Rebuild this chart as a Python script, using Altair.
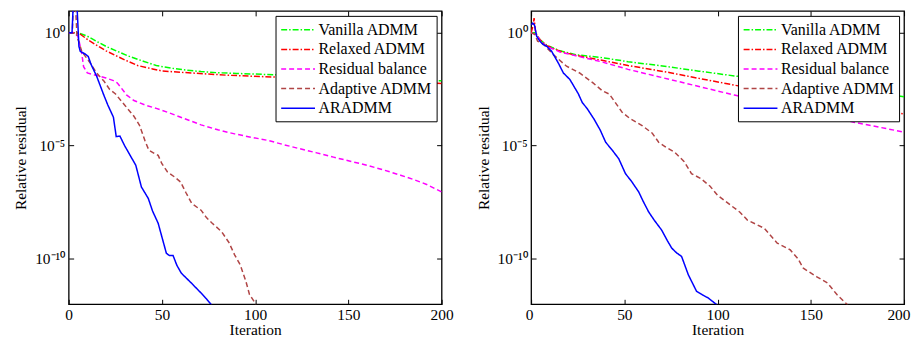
import altair as alt
import pandas as pd

METHODS = ["Vanilla ADMM", "Relaxed ADMM", "Residual balance", "Adaptive ADMM", "ARADMM"]
COLORS = ["#00ff00", "#ff0000", "#ff00ff", "#b04545", "#0000ff"]
DASHES = [[6, 2, 1.5, 2], [6, 2, 1.5, 2], [5, 3], [5, 3], [1, 0]]
WIDTHS = [1.5, 1.5, 1.5, 1.5, 2.0]

# ---- Left panel: iterations and log10(relative residual) ----
L_van_it = [0, 3, 5, 10, 15, 20, 26, 32, 40, 47, 55, 63, 71, 80, 90, 100, 110, 130, 150, 170, 190, 200]
L_van_lg = [0, 0, 0, -0.15, -0.38, -0.6, -0.82, -1.03, -1.26, -1.45, -1.57, -1.65, -1.72, -1.77, -1.8, -1.83, -1.86, -1.91, -1.96, -2.02, -2.09, -2.13]

L_rel_it = [0, 3, 6, 11, 16, 20, 25, 30, 37, 45, 50, 60, 68, 85, 103, 120, 140, 160, 180, 200]
L_rel_lg = [0, 0, -0.05, -0.35, -0.6, -0.8, -1.0, -1.2, -1.45, -1.6, -1.69, -1.75, -1.79, -1.88, -1.94, -1.99, -2.04, -2.1, -2.17, -2.25]

L_res_it = [0, 3, 5, 7, 8, 10, 15, 20, 24, 26, 28, 31, 35, 41, 47, 53, 62, 71, 80, 89, 98, 107, 115, 124, 133, 142, 151, 160, 169, 178, 185, 192, 200]
L_res_lg = [0, 0, -0.16, -0.9, -1.5, -1.78, -1.89, -2.0, -2.12, -2.22, -2.42, -2.75, -3.0, -3.2, -3.35, -3.52, -3.8, -4.08, -4.3, -4.48, -4.63, -4.77, -4.95, -5.14, -5.32, -5.51, -5.69, -5.87, -6.08, -6.31, -6.5, -6.72, -7.05]

L_ada_it = [0, 2, 2.5, 3.5, 4.5, 5.4, 7, 11.6, 15, 19, 22, 25, 30, 35, 38, 41, 43, 46, 48, 50, 53, 57, 60, 63, 66, 71, 74, 77, 82, 86, 89, 92, 95, 97, 100, 102]
L_ada_lg = [0, 0, 1.5, 1.5, -0.2, -0.38, -0.82, -1.34, -1.78, -2.15, -2.51, -2.7, -3.2, -3.7, -4.1, -4.8, -5.2, -5.35, -5.43, -5.8, -6.17, -6.4, -6.61, -7.1, -7.56, -7.86, -8.2, -8.44, -8.81, -9.3, -9.84, -10.28, -11.0, -11.6, -11.97, -12.4]

L_ara_it = [0, 1.8, 2.6, 4.3, 5.5, 6.2, 9, 10.5, 12, 15, 18.7, 21, 24, 25.5, 27.5, 30, 32, 36, 39, 42.7, 45, 48, 52.4, 54, 56, 58, 60.4, 65.8, 71, 74, 76.4, 78]
L_ara_lg = [0, 0, 1.5, 1.5, -0.6, -0.82, -0.95, -1.05, -1.4, -1.92, -2.73, -3.2, -3.74, -4.6, -4.58, -5.0, -5.29, -5.87, -6.83, -7.34, -7.9, -8.44, -9.77, -9.87, -9.87, -10.3, -10.65, -11.09, -11.53, -11.8, -12.04, -12.3]

# ---- Right panel ----
R_van_it = [0, 2, 4.8, 8.4, 15.5, 24, 38, 52, 74, 90, 109, 130, 160, 185, 200]
R_van_lg = [0, 0, -0.31, -0.55, -0.8, -0.97, -1.1, -1.28, -1.51, -1.7, -1.91, -2.12, -2.42, -2.67, -2.83]

R_rel_it = [0, 1, 1.6, 2.3, 3, 4.8, 8.4, 15.5, 24, 38, 52, 74, 90, 109, 130, 160, 185, 200]
R_rel_lg = [0, 0.3, 0.65, 0.1, -0.1, -0.31, -0.57, -0.82, -1.0, -1.22, -1.45, -1.76, -2.02, -2.32, -2.62, -3.05, -3.4, -3.6]

R_res_it = [0, 3, 4.8, 8.4, 15.5, 24, 38, 52, 74, 90, 109, 130, 150, 173, 200]
R_res_lg = [0, -0.1, -0.35, -0.6, -0.85, -1.02, -1.29, -1.62, -2.06, -2.38, -2.76, -3.15, -3.5, -3.96, -4.4]

R_ada_it = [0, 2, 3.5, 6.6, 11.9, 19, 26, 33.2, 38.2, 42, 48.8, 53, 59.5, 65, 68.4, 72, 77, 82, 86, 91, 96, 100, 107, 112, 116, 121, 125, 132, 139, 143, 146, 153, 159, 164, 169.5, 172]
R_ada_lg = [0, -0.07, -0.37, -0.5, -0.97, -1.48, -1.78, -2.22, -2.57, -2.72, -3.52, -3.8, -4.11, -4.45, -4.85, -5.05, -5.29, -5.7, -6.24, -6.46, -6.8, -7.2, -7.64, -7.95, -8.3, -8.5, -8.66, -9.32, -9.62, -10.0, -10.43, -10.8, -11.09, -11.6, -12.04, -12.4]

R_ara_it = [0, 0.9, 1.8, 3, 4.8, 6.6, 8.4, 11, 14.6, 17.3, 20.8, 25.3, 27.5, 30, 33.7, 37, 40, 43.5, 47, 50.6, 54, 57.7, 60, 63, 66, 70, 73, 75.4, 78, 80.7, 84.3, 88.7, 92, 95, 99.4, 101]
R_ara_lg = [0.35, 0.43, 0.35, -0.16, -0.38, -0.53, -0.6, -0.82, -1.34, -1.78, -2.07, -2.7, -3.1, -3.35, -3.82, -4.3, -4.85, -5.2, -5.58, -6.24, -6.6, -7.05, -7.45, -7.93, -8.3, -8.74, -9.2, -9.54, -9.75, -9.91, -10.72, -11.45, -11.62, -11.75, -12.04, -12.3]

LEFT = [(L_van_it, L_van_lg), (L_rel_it, L_rel_lg), (L_res_it, L_res_lg), (L_ada_it, L_ada_lg), (L_ara_it, L_ara_lg)]
RIGHT = [(R_van_it, R_van_lg), (R_rel_it, R_rel_lg), (R_res_it, R_res_lg), (R_ada_it, R_ada_lg), (R_ara_it, R_ara_lg)]

X_TICKS = [0, 50, 100, 150, 200]
Y_TICKS = [1, 1e-5, 1e-10]
Y_DOMAIN = [10 ** -12.03, 10 ** 0.97]
FONT = "Liberation Serif, Times New Roman, serif"
FS = 15.5


def make_df(series):
    rows = []
    for k, (its, lgs) in enumerate(series):
        for i, v in zip(its, lgs):
            rows.append({"method": METHODS[k], "iter": i, "resid": 10 ** v, "k": k})
    return pd.DataFrame(rows)


def panel(series, flush):
    df = make_df(series)
    base = alt.Chart(df)
    xs = alt.Scale(domain=[0, 200], nice=False, zero=False)
    ys = alt.Scale(type="log", domain=Y_DOMAIN, nice=False)
    leg = alt.Legend(
        title=None, orient="top-right", offset=5, padding=4.5,
        strokeColor="black", fillColor="white", cornerRadius=0,
        symbolType="M-2,0H2", symbolSize=289, symbolStrokeWidth=1.6,
        symbolOffset=8.7,
        labelFont=FONT, labelFontSize=16, labelColor="black",
        rowPadding=1.7, labelOffset=11,
        labelExpr="datum.label + '\u00a0\u00a0'",
    )
    common = dict(ticks=False, domain=False, grid=False,
                  labelFont=FONT, titleFont=FONT, labelFontSize=FS, titleFontSize=FS,
                  titleFontWeight="normal", labelColor="black", titleColor="black")
    xkw = dict(values=X_TICKS, title="Iteration", labelPadding=3, titlePadding=0, **common)
    if flush:
        xkw.update(labelFlush=True, labelFlushOffset=6)
    else:
        xkw.update(labelFlush=False)
    lines = base.mark_line(clip=True).encode(
        x=alt.X("iter:Q", scale=xs, axis=alt.Axis(**xkw)),
        y=alt.Y("resid:Q", scale=ys, axis=alt.Axis(
            values=Y_TICKS, title="Relative residual", labelPadding=4, titlePadding=6,
            labelExpr="datum.value > 0.5 ? '10⁰' : (datum.value > 1e-7 ? '10⁻⁵' : '10⁻¹⁰')",
            **common)),
        color=alt.Color("method:N", scale=alt.Scale(domain=METHODS, range=COLORS), legend=leg),
        strokeDash=alt.StrokeDash("method:N", scale=alt.Scale(domain=METHODS, range=DASHES), legend=leg),
        strokeWidth=alt.StrokeWidth("method:N", scale=alt.Scale(domain=METHODS, range=WIDTHS), legend=None),
        order=alt.Order("iter:Q"),
    )
    tick_axis = dict(labels=False, domain=False, ticks=True, tickSize=5, offset=-5,
                     title=None, grid=False, tickColor="black", tickWidth=1)
    ticks_bl = base.mark_point(opacity=0, clip=True).encode(
        x=alt.X("iter:Q", scale=xs, axis=alt.Axis(orient="bottom", values=X_TICKS, **tick_axis)),
        y=alt.Y("resid:Q", scale=ys, axis=alt.Axis(orient="left", values=Y_TICKS, **tick_axis)),
    )
    ticks_tr = base.mark_point(opacity=0, clip=True).encode(
        x=alt.X("iter:Q", scale=xs, axis=alt.Axis(orient="top", values=X_TICKS, **tick_axis)),
        y=alt.Y("resid:Q", scale=ys, axis=alt.Axis(orient="right", values=Y_TICKS, **tick_axis)),
    )
    return alt.layer(lines, ticks_bl, ticks_tr).resolve_axis(x="independent", y="independent").properties(
        width=375, height=295)


chart = alt.hconcat(panel(LEFT, False), panel(RIGHT, True), spacing=21).resolve_scale(
    color="independent", strokeDash="independent", strokeWidth="independent"
).properties(
    padding={"left": 5, "top": 0, "right": 0, "bottom": 0},
    background="white",
).configure(
    font=FONT
).configure_view(
    stroke="black", strokeWidth=1.3
).configure_legend(
    labelFont=FONT
)

chart.save("out.html", embed_options={"renderer": "svg", "actions": False})
